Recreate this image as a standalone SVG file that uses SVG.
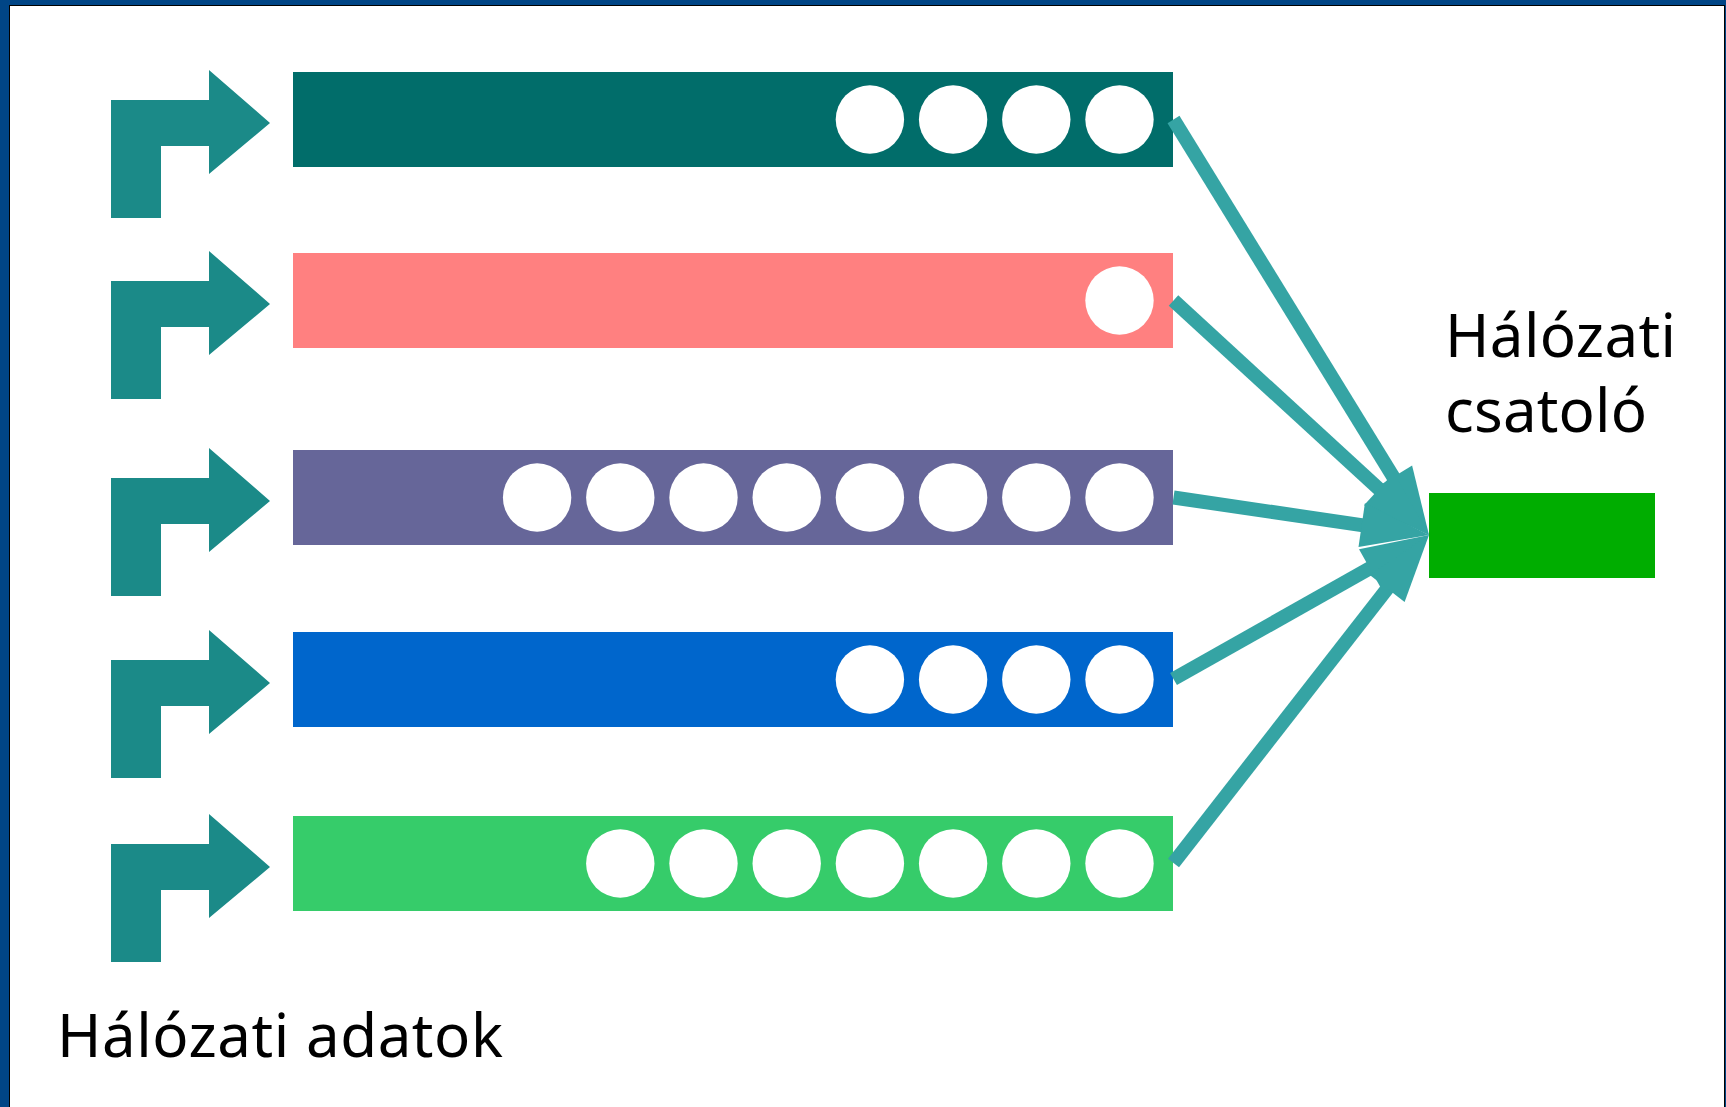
<svg xmlns="http://www.w3.org/2000/svg" width="1726" height="1107" viewBox="0 0 1726 1107">
<style>
.bent{fill:#1B8A88}
.dot{fill:#FFFFFF}
.conn{stroke:#35A4A4;stroke-width:14;fill:none;stroke-linecap:butt}
.head{fill:#35A4A4}
.lbl{font-family:"Noto Sans","DejaVu Sans",sans-serif;font-size:60px;fill:#000000}
</style>
<defs>
<polygon id="bentArrow" class="bent" points="111,146 111,28 209,28 209,-2 270,51 209,102 209,74 161,74 161,146"/>
<circle id="c" class="dot" r="34.2"/>
</defs>
<rect x="0" y="0" width="1726" height="1107" fill="#004586"/>
<rect x="9" y="5" width="1716" height="1102" fill="#000000"/>
<rect x="10" y="6" width="1714" height="1101" fill="#FFFFFF"/>

<g id="row1">
<use href="#bentArrow" y="72"/>
<rect x="293" y="72" width="880" height="95" fill="#016D6A"/>
<use href="#c" x="1119.5" y="119.5"/><use href="#c" x="1036.3" y="119.5"/><use href="#c" x="953.1" y="119.5"/><use href="#c" x="869.9" y="119.5"/>
</g>
<g id="row2">
<use href="#bentArrow" y="253"/>
<rect x="293" y="253" width="880" height="95" fill="#FF8080"/>
<use href="#c" x="1119.5" y="300.5"/>
</g>
<g id="row3">
<use href="#bentArrow" y="450"/>
<rect x="293" y="450" width="880" height="95" fill="#666699"/>
<use href="#c" x="1119.5" y="497.5"/><use href="#c" x="1036.3" y="497.5"/><use href="#c" x="953.1" y="497.5"/><use href="#c" x="869.9" y="497.5"/><use href="#c" x="786.7" y="497.5"/><use href="#c" x="703.5" y="497.5"/><use href="#c" x="620.3" y="497.5"/><use href="#c" x="537.1" y="497.5"/>
</g>
<g id="row4">
<use href="#bentArrow" y="632"/>
<rect x="293" y="632" width="880" height="95" fill="#0066CC"/>
<use href="#c" x="1119.5" y="679.5"/><use href="#c" x="1036.3" y="679.5"/><use href="#c" x="953.1" y="679.5"/><use href="#c" x="869.9" y="679.5"/>
</g>
<g id="row5">
<use href="#bentArrow" y="816"/>
<rect x="293" y="816" width="880" height="95" fill="#36CC6A"/>
<use href="#c" x="1119.5" y="863.5"/><use href="#c" x="1036.3" y="863.5"/><use href="#c" x="953.1" y="863.5"/><use href="#c" x="869.9" y="863.5"/><use href="#c" x="786.7" y="863.5"/><use href="#c" x="703.5" y="863.5"/><use href="#c" x="620.3" y="863.5"/>
</g>

<g id="interface">
<rect x="1429" y="493" width="226" height="85" fill="#00AD00"/>
<text class="lbl" x="1445" y="357" textLength="231">Hálózati</text>
<text class="lbl" x="1445" y="432" textLength="202">csatoló</text>
</g>

<g id="connectors">
<line class="conn" x1="1173.5" y1="119.5" x2="1396" y2="481.3"/>
<polygon class="head" points="1429,535 1374.7,488.6 1412.1,465.6"/>
<line class="conn" x1="1173.5" y1="300.5" x2="1382.6" y2="492.4"/>
<polygon class="head" points="1429,535 1364,505.2 1393.8,472.8"/>
<line class="conn" x1="1173.5" y1="497.5" x2="1366.7" y2="525.9"/>
<polygon class="head" points="1429,535 1358.5,546.9 1364.9,503.3"/>
<line class="conn" x1="1173.5" y1="679" x2="1374.1" y2="565.9"/>
<polygon class="head" points="1429,535 1380.6,587.6 1359,549.2"/>
<line class="conn" x1="1173.5" y1="863" x2="1390.3" y2="584.7"/>
<polygon class="head" points="1429,535 1404.6,602.1 1369.8,575.1"/>
</g>

<g id="caption">
<text class="lbl" x="57" y="1057" textLength="446">Hálózati adatok</text>
</g>
</svg>
